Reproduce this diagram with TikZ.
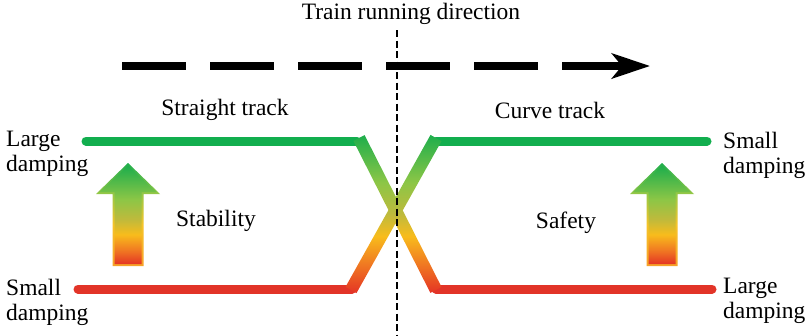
\documentclass[tikz,border=0pt]{standalone}
\usepackage{fontspec}
\setmainfont{Liberation Serif}
\usetikzlibrary{arrows.meta,calc}

\definecolor{trackgreen}{RGB}{18,174,78}
\definecolor{trackred}{RGB}{226,52,40}
\definecolor{gGreen}{RGB}{30,174,76}
\definecolor{gLight}{RGB}{140,198,70}
\definecolor{gOlive}{RGB}{190,186,60}
\definecolor{gYellow}{RGB}{248,188,28}
\definecolor{gOrange}{RGB}{240,120,34}
\definecolor{gRed}{RGB}{228,52,36}
\definecolor{bLight}{RGB}{150,200,70}
\definecolor{bYellow}{RGB}{246,196,40}
\definecolor{bOrange}{RGB}{246,160,40}

% green at the top, red at the bottom (mapped onto the path's bounding box)
\pgfdeclareverticalshading{crossshade}{100bp}{color(0bp)=(gRed); color(25bp)=(gRed);
  color(34bp)=(gOrange); color(43bp)=(gYellow); color(50bp)=(gOlive);
  color(60bp)=(gLight); color(75bp)=(gGreen); color(100bp)=(gGreen)}
\pgfdeclareverticalshading{arrowshade}{100bp}{color(0bp)=(gRed); color(25bp)=(gRed);
  color(32bp)=(gOrange); color(40bp)=(gYellow); color(48bp)=(gOlive);
  color(58bp)=(gLight); color(75bp)=(gGreen); color(100bp)=(gGreen)}
\pgfdeclareverticalshading{rimshade}{100bp}{color(0bp)=(bOrange); color(25bp)=(bOrange);
  color(45bp)=(bYellow); color(60bp)=(bLight); color(75bp)=(gGreen); color(100bp)=(gGreen)}

\tikzset{
  lbl/.style={inner sep=0pt, font=\fontsize{23.5}{25}\selectfont},
  sidelbl/.style={lbl, align=left, anchor=base west},
  trackbar/.style={line width=9pt, line cap=round},
  divider/.style={line width=2.2pt, dash pattern=on 7pt off 3.5pt},
  dirarrow/.style={line width=8pt, dash pattern=on 64pt off 24pt,
    -{Stealth[length=38pt,width=25pt,inset=10pt]}},
}

\begin{document}
\begin{tikzpicture}[x=1pt,y=-1pt]
\useasboundingbox (0,0) rectangle (809,335);

% running direction
\node[lbl, anchor=base] (title) at (411,19) {Train running direction};
\coordinate (divT) at (397,30);
\coordinate (divB) at (397,335);
\coordinate (dirS) at (122,66);
\coordinate (dirE) at (650,66);
\draw[dirarrow] (dirS) -- (dirE);

% damping levels along the track
\coordinate (gLa) at (86,141);  \coordinate (gLb) at (357,141);
\coordinate (rLa) at (78,289);  \coordinate (rLb) at (352,289);
\coordinate (gRa) at (436,141); \coordinate (gRb) at (707,141);
\coordinate (rRa) at (436,289); \coordinate (rRb) at (712,289);
\draw[trackbar, trackgreen] (gLa) -- (gLb);
\draw[trackbar, trackred] (rLa) -- (rLb);
\draw[trackbar, trackgreen] (gRa) -- (gRb);
\draw[trackbar, trackred] (rRa) -- (rRb);

% transition bands
\coordinate (xAa) at (359,138); \coordinate (xAb) at (436,290);
\coordinate (xBa) at (351,290); \coordinate (xBb) at (436,138);
\shade[shading=crossshade]
  ($(xBa)!6.3pt!90:(xBb)$) -- ($(xBb)!6.3pt!-90:(xBa)$) --
  ($(xBb)!6.3pt!90:(xBa)$) -- ($(xBa)!6.3pt!-90:(xBb)$) -- cycle;
\shade[shading=crossshade]
  ($(xAa)!6.3pt!90:(xAb)$) -- ($(xAb)!6.3pt!-90:(xAa)$) --
  ($(xAb)!6.3pt!90:(xAa)$) -- ($(xAa)!6.3pt!-90:(xAb)$) -- cycle;

\draw[divider] (divT) -- (divB);

% rising arrows
\foreach \cx in {128,662}{
  \shade[shading=rimshade] (\cx,163) -- (\cx+32,194) -- (\cx+15.5,194) -- (\cx+15.5,266)
    -- (\cx-15.5,266) -- (\cx-15.5,194) -- (\cx-32,194) -- cycle;
  \shade[shading=arrowshade] (\cx,166) -- (\cx+28.5,192) -- (\cx+13.5,192) -- (\cx+13.5,264)
    -- (\cx-13.5,264) -- (\cx-13.5,192) -- (\cx-28.5,192) -- cycle;
}

% labels
\node[lbl, anchor=base] (straight) at (225,115) {Straight track};
\node[lbl, anchor=base] (curve) at (550,118) {Curve track};
\node[lbl, anchor=base] (stab) at (216,226) {Stability};
\node[lbl, anchor=base] (safe) at (566,228) {Safety};
\node[sidelbl] (ltop) at (6,171) {Large\\damping};
\node[sidelbl] (lbot) at (6,320) {Small\\damping};
\node[sidelbl] (rtop) at (723,173) {Small\\damping};
\node[sidelbl] (rbot) at (723,318) {Large\\damping};
\end{tikzpicture}
\end{document}
